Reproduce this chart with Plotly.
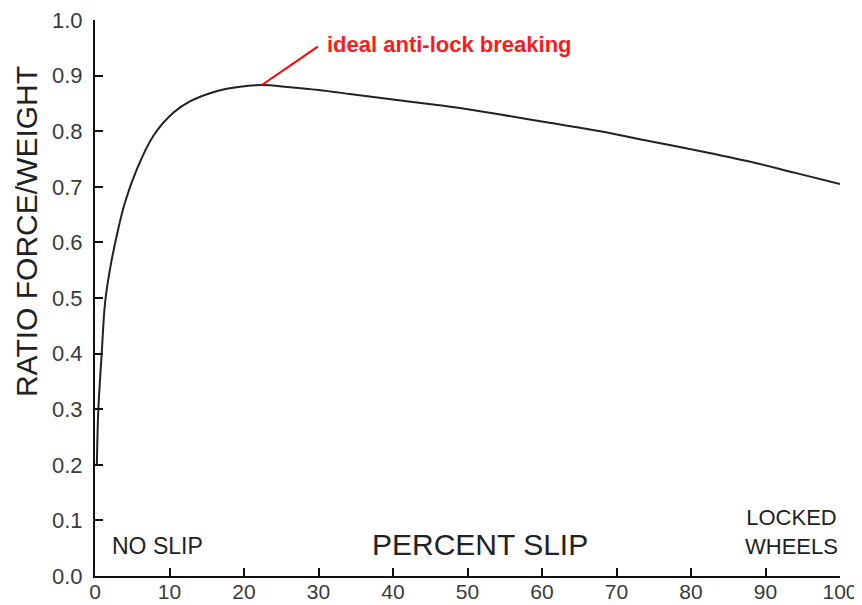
import plotly.graph_objects as go

# Data
slip_pct = [0.25, 0.45, 0.9, 1.34, 2.0, 2.9, 4.0, 5.6, 7.8, 10.5, 12.8, 16.3, 19.5, 22.4,
            26.2, 30, 34.2, 40, 47.7, 54, 61, 67.8, 74.5, 81, 88, 94, 100]
force_ratio = [0.20, 0.30, 0.40, 0.49, 0.551, 0.611, 0.671, 0.731, 0.791, 0.833, 0.854, 0.872,
               0.880, 0.883, 0.879, 0.874, 0.867, 0.857, 0.844, 0.831, 0.815, 0.800, 0.782,
               0.765, 0.745, 0.725, 0.705]
x_ticks = [0, 10, 20, 30, 40, 50, 60, 70, 80, 90, 100]
y_ticks = [0.0, 0.1, 0.2, 0.3, 0.4, 0.5, 0.6, 0.7, 0.8, 0.9, 1.0]
peak_point = (22.4, 0.883)

FONT = "Liberation Sans, Arial, Helvetica, sans-serif"

fig = go.Figure()
fig.add_trace(go.Scatter(
    x=slip_pct, y=force_ratio, mode="lines",
    line=dict(color="#222222", width=2, shape="spline", smoothing=1.0),
    showlegend=False, hoverinfo="skip",
))

# the page body adds an 8px offset, so the figure is sized to fit the window
fig.update_layout(
    width=854, height=597,
    margin=dict(l=87, r=22, t=12, b=29),
    plot_bgcolor="white", paper_bgcolor="white",
    font=dict(family=FONT, color="#333333"),
    xaxis=dict(
        range=[0, 100], tickvals=x_ticks, ticktext=[str(v) for v in x_ticks],
        ticks="inside", ticklen=8, tickwidth=1.5, tickcolor="#111",
        showline=True, linecolor="#111", linewidth=2, showgrid=False, zeroline=False,
        tickfont=dict(size=21, color="#3a3a3a"), automargin=False, ticklabelstandoff=-4,
        ticklabeloverflow="allow",
    ),
    yaxis=dict(
        range=[0, 1.0], tickvals=y_ticks, ticktext=[f"{v:.1f}" for v in y_ticks],
        ticks="inside", ticklen=8, tickwidth=1.5, tickcolor="#111",
        showline=True, linecolor="#111", linewidth=2, showgrid=False, zeroline=False,
        tickfont=dict(size=22, color="#3a3a3a"), automargin=False, ticklabelstandoff=6,
        ticklabeloverflow="allow",
    ),
)

fig.add_annotation(x=-0.091, y=0.619, xref="paper", yref="paper", text="RATIO FORCE/WEIGHT",
                   textangle=-90, showarrow=False, xanchor="center", yanchor="middle",
                   font=dict(size=30, color="#222222"))
fig.add_annotation(x=2.0, y=0.054, xref="x", yref="y", text="NO SLIP", showarrow=False,
                   xanchor="left", yanchor="middle", font=dict(size=23, color="#222222"))
fig.add_annotation(x=51.7, y=0.056, xref="x", yref="y", text="PERCENT SLIP", showarrow=False,
                   xanchor="center", yanchor="middle", font=dict(size=30, color="#222222"))
fig.add_annotation(x=100.0, y=0.079, xref="x", yref="y", text="LOCKED<br>WHEELS",
                   showarrow=False, xanchor="right", yanchor="middle", align="center",
                   font=dict(size=22, color="#222222"))

fig.add_shape(type="line", xref="x", yref="y", x0=peak_point[0], y0=peak_point[1],
              x1=29.9, y1=0.952, line=dict(color="#ff0000", width=2))
fig.add_annotation(x=30.9, y=0.956, xref="x", yref="y", text="<b>ideal anti-lock breaking</b>",
                   showarrow=False, xanchor="left", yanchor="middle",
                   font=dict(size=22, color="#ff1a1a"))

fig.write_html("out.html")
